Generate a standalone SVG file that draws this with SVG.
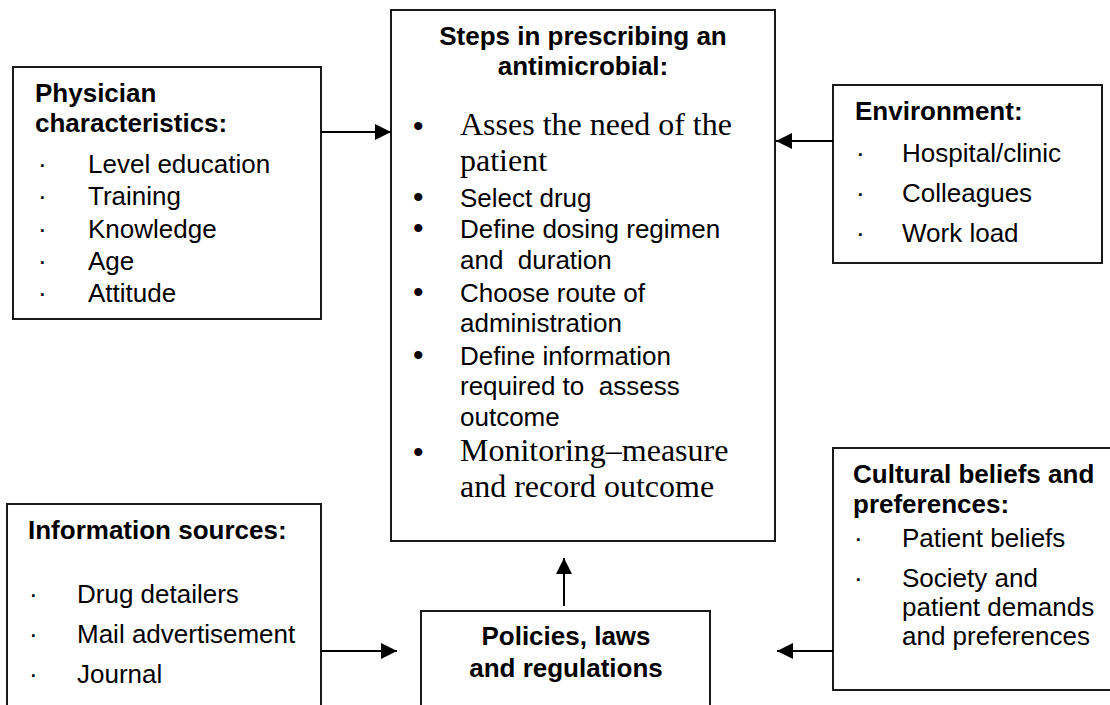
<svg xmlns="http://www.w3.org/2000/svg" width="1110" height="705" viewBox="0 0 1110 705">
<defs>
<style>
.box{fill:#fff;stroke:#1a1a1a;stroke-width:2}
.t{font-family:"Liberation Sans",Arial,sans-serif;font-size:26px;fill:#000}
.b{font-weight:bold}
.tm{font-family:"Liberation Serif","Times New Roman",serif;font-size:32px;fill:#000}
.c{text-anchor:middle}
.bu{font-family:"Liberation Sans",Arial,sans-serif;font-size:30px;fill:#000}
.ln{stroke:#000;stroke-width:2;fill:none}
</style>
<marker id="ah" markerWidth="16" markerHeight="16" viewBox="0 0 16 16" refX="16" refY="8" orient="auto" markerUnits="userSpaceOnUse">
<path d="M0,0 L16,8 L0,16 Z" fill="#000"/>
</marker>
</defs>
<rect width="1110" height="705" fill="#fff"/>

<g id="physician">
<rect class="box" x="13" y="67" width="308" height="252"/>
<text class="t b" x="35" y="102">Physician</text>
<text class="t b" x="35" y="132">characteristics:</text>
<text class="t" x="38" y="173">·</text><text class="t" x="88" y="173">Level education</text>
<text class="t" x="38" y="205">·</text><text class="t" x="88" y="205">Training</text>
<text class="t" x="38" y="238">·</text><text class="t" x="88" y="238">Knowledge</text>
<text class="t" x="38" y="270">·</text><text class="t" x="88" y="270">Age</text>
<text class="t" x="38" y="302">·</text><text class="t" x="88" y="302">Attitude</text>
</g>

<g id="steps">
<rect class="box" x="391" y="10" width="384" height="531"/>
<text class="t b c" x="583" y="45">Steps in prescribing an</text>
<text class="t b c" x="583" y="75">antimicrobial:</text>
<text class="bu" x="413" y="136">•</text><text class="tm" x="460" y="135">Asses the need of the</text>
<text class="tm" x="460" y="171">patient</text>
<text class="bu" x="413" y="207">•</text><text class="t" x="460" y="207">Select drug</text>
<text class="bu" x="413" y="238">•</text><text class="t" x="460" y="238" xml:space="preserve">Define dosing regimen</text>
<text class="t" x="460" y="269" xml:space="preserve">and  duration</text>
<text class="bu" x="413" y="302">•</text><text class="t" x="460" y="302">Choose route of</text>
<text class="t" x="460" y="332">administration</text>
<text class="bu" x="413" y="365">•</text><text class="t" x="460" y="365">Define information</text>
<text class="t" x="460" y="395" xml:space="preserve">required to  assess</text>
<text class="t" x="460" y="426">outcome</text>
<text class="bu" x="413" y="462">•</text><text class="tm" x="460" y="461">Monitoring–measure</text>
<text class="tm" x="460" y="497">and record outcome</text>
</g>

<g id="environment">
<rect class="box" x="833" y="85" width="269" height="178"/>
<text class="t b" x="855" y="120">Environment:</text>
<text class="t" x="856" y="162">·</text><text class="t" x="902" y="162">Hospital/clinic</text>
<text class="t" x="856" y="202">·</text><text class="t" x="902" y="202">Colleagues</text>
<text class="t" x="856" y="242">·</text><text class="t" x="902" y="242">Work load</text>
</g>

<g id="information">
<rect class="box" x="7" y="504" width="314" height="220"/>
<text class="t b" x="28" y="539">Information sources:</text>
<text class="t" x="29" y="603">·</text><text class="t" x="77" y="603">Drug detailers</text>
<text class="t" x="29" y="643">·</text><text class="t" x="77" y="643">Mail advertisement</text>
<text class="t" x="29" y="683">·</text><text class="t" x="77" y="683">Journal</text>
</g>

<g id="policies">
<rect class="box" x="421" y="611" width="289" height="120"/>
<text class="t b c" x="566" y="645">Policies, laws</text>
<text class="t b c" x="566" y="677">and regulations</text>
</g>

<g id="cultural">
<rect class="box" x="833" y="448" width="290" height="242"/>
<text class="t b" x="853" y="483">Cultural beliefs and</text>
<text class="t b" x="853" y="513">preferences:</text>
<text class="t" x="854" y="547">·</text><text class="t" x="902" y="547">Patient beliefs</text>
<text class="t" x="854" y="587">·</text><text class="t" x="902" y="587">Society and</text>
<text class="t" x="902" y="616">patient demands</text>
<text class="t" x="902" y="645">and preferences</text>
</g>

<g id="connectors">
<line class="ln" x1="321" y1="132" x2="391" y2="132" marker-end="url(#ah)"/>
<line class="ln" x1="833" y1="141" x2="776" y2="141" marker-end="url(#ah)"/>
<line class="ln" x1="321" y1="651" x2="397" y2="651" marker-end="url(#ah)"/>
<line class="ln" x1="833" y1="651" x2="777" y2="651" marker-end="url(#ah)"/>
<line class="ln" x1="564" y1="606" x2="564" y2="558" marker-end="url(#ah)"/>
</g>
</svg>
